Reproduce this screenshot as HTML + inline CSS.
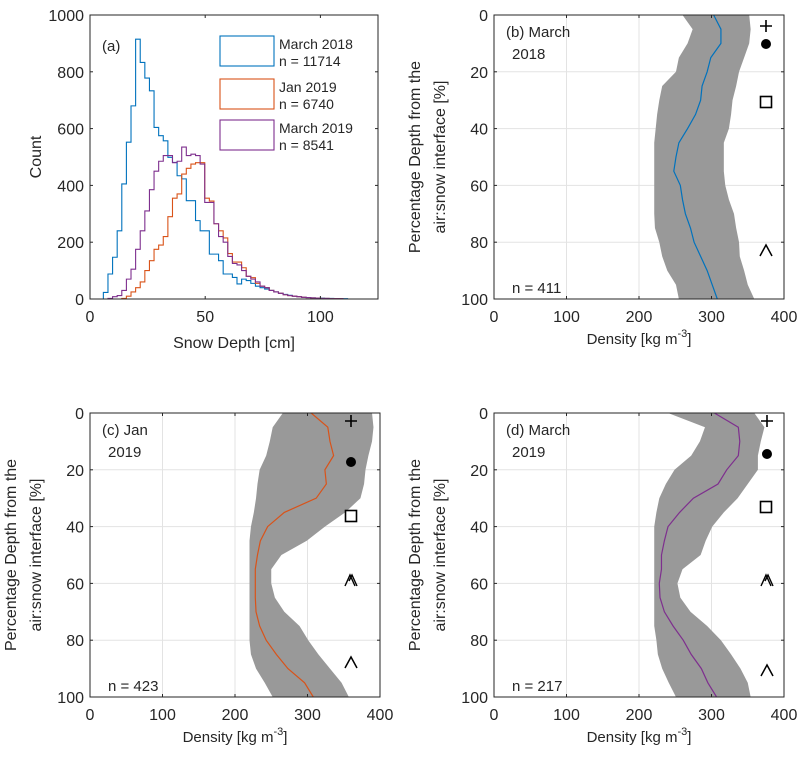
<!DOCTYPE html>
<html><head><meta charset="utf-8"><style>
html,body{margin:0;padding:0;background:#fff;}
svg{display:block;font-family:"Liberation Sans",Arial,sans-serif;}
</style></head><body>
<svg id="fig" width="804" height="761" viewBox="0 0 804 761" xmlns="http://www.w3.org/2000/svg"></svg>
<script>
// ---------- Panel (a) histogram data (bins of 2 cm) ----------
const binStart = 5.8;
const binWidth = 2;
const countsMar2018 = [23,88,147,240,405,552,680,915,833,778,733,604,575,557,499,481,434,423,346,346,276,240,240,158,158,135,88,88,76,53,70,65,55,45,40,35,30,25,20,16,13,10,8,6,5,4,3,3,2,2,1,1,1];
const countsJan2019 = [0,0,0,0,2,10,25,40,60,100,135,175,190,220,290,355,370,440,460,475,480,480,355,345,265,240,215,160,130,130,110,80,75,55,45,40,30,25,20,15,12,10,8,6,5,4,3,2,2,1,1,1,0];
const countsMar2019 = [0,2,8,12,30,70,105,175,240,310,385,450,485,505,505,480,485,535,505,510,505,475,340,340,265,220,200,150,125,120,100,80,70,60,45,40,30,25,20,15,12,10,8,6,5,4,3,2,2,1,1,1,0];
const histXTicks = [0,50,100];
const histYTicks = [0,200,400,600,800,1000];

// ---------- Profile data (every 5 % depth) ----------
const depthPct = [0,5,10,15,20,25,30,35,40,45,50,55,60,65,70,75,80,85,90,95,100];
const meanB  = [303,313,313,299,294,287,285,278,267,255,251,248,257,260,264,271,276,285,294,301,308];
const lowerB = [260,274,267,255,251,232,228,225,223,221,221,221,221,221,221,222,228,232,239,251,255];
const upperB = [352,354,352,345,338,334,329,327,324,317,317,317,319,324,331,334,338,339,345,350,359];
const meanC  = [305,328,331,336,324,326,312,268,245,235,231,228,228,228,229,234,243,257,273,296,308];
const lowerC = [266,252,248,243,234,231,229,226,222,220,220,220,220,220,220,220,220,222,229,241,252];
const upperC = [389,391,389,384,380,378,373,352,324,299,264,250,250,255,268,289,301,315,331,347,357];
const meanD  = [304,337,339,337,321,309,275,256,240,235,231,231,228,229,235,247,261,272,286,295,307];
const lowerD = [240,291,284,272,249,237,228,224,221,221,221,221,221,221,221,221,224,226,232,241,251];
const upperD = [359,373,368,364,364,350,336,317,301,292,285,260,253,257,271,294,313,327,340,350,354];
const densTicks = [0,100,200,300,400];
const pctTicks = [0,20,40,60,80,100];

const NS = "http://www.w3.org/2000/svg";
const svg = document.getElementById('fig');
const TXT = "#262626";
function mk(tag, attrs, parent){
  const e = document.createElementNS(NS, tag);
  for (const k in attrs) e.setAttribute(k, attrs[k]);
  (parent||svg).appendChild(e);
  return e;
}
function text(str, x, y, size, anchor, parent, rot){
  const t = mk('text', {x:x, y:y, 'font-size':size, fill:TXT, 'text-anchor':anchor||'middle'}, parent);
  if (rot) t.setAttribute('transform', 'rotate(-90 '+x+' '+y+')');
  t.textContent = str;
  return t;
}

// ---------- Panel (a) ----------
(function(){
  const L=90, R=378, T=15, B=299;
  const xs = v => L + (v/125)*(R-L);
  const ys = v => B - (v/1000)*(B-T);
  const g = mk('g', {});
  
  
  mk('rect', {x:L, y:T, width:R-L, height:B-T, fill:'#fff'}, g);
  const series = [[countsMar2018,'#0072BD','hist-march-2018'],[countsJan2019,'#D95319','hist-jan-2019'],[countsMar2019,'#7E2F8E','hist-march-2019']];
  series.forEach(s=>{
    let d = 'M'+xs(binStart)+' '+ys(0);
    s[0].forEach((c,i)=>{
      const x0 = xs(binStart+i*binWidth), x1 = xs(binStart+(i+1)*binWidth);
      d += ' L'+x0+' '+ys(c)+' L'+x1+' '+ys(c);
    });
    d += ' L'+xs(binStart+s[0].length*binWidth)+' '+ys(0);
    const p = mk('path', {d:d, fill:'none', stroke:s[1], 'stroke-width':1.1}, g);
    
    
  });
  mk('rect', {x:L, y:T, width:R-L, height:B-T, fill:'none', stroke:TXT, 'stroke-width':1}, g);
  histXTicks.forEach(v=>{
    mk('line',{x1:xs(v),x2:xs(v),y1:B,y2:B-3,stroke:TXT},g);
    mk('line',{x1:xs(v),x2:xs(v),y1:T,y2:T+3,stroke:TXT},g);
    const t = text(String(v), xs(v), B+23, 16, 'middle', g);
     
  });
  histYTicks.forEach(v=>{
    mk('line',{x1:L,x2:L+3,y1:ys(v),y2:ys(v),stroke:TXT},g);
    mk('line',{x1:R,x2:R-3,y1:ys(v),y2:ys(v),stroke:TXT},g);
    const t = text(String(v), L-6, ys(v)+6, 16, 'end', g);
     
  });
  const xl = text('Snow Depth [cm]', 234, 348, 16, 'middle', g);
   
  const yl = text('Count', 41, 157, 16, 'middle', g, true);
   
  const pl = text('(a)', 102, 51, 15, 'start', g);
   
  const leg = [['March 2018','n = 11714','#0072BD',36],['Jan 2019','n = 6740','#D95319',79],['March 2019','n = 8541','#7E2F8E',120]];
  leg.forEach(l=>{
    const lg = mk('g',{},g);
     
    mk('rect',{x:220,y:l[3],width:54,height:30,fill:'#fff',stroke:l[2],'stroke-width':1.1},lg);
    text(l[0],279,l[3]+13,14,'start',lg);
    text(l[1],279,l[3]+30,14,'start',lg);
  });
})();

// ---------- Profile panels ----------
function marker(kind, x, y, g){
  const m = mk('g',{},g);
  
  
  if (kind==='plus'){ mk('path',{d:'M'+(x-6)+' '+y+'H'+(x+6)+'M'+x+' '+(y-6)+'V'+(y+6),stroke:'#000','stroke-width':1.6},m); }
  else if (kind==='dot'){ mk('circle',{cx:x,cy:y,r:5,fill:'#000'},m); }
  else if (kind==='square'){ mk('rect',{x:x-5.5,y:y-5.5,width:11,height:11,fill:'none',stroke:'#000','stroke-width':1.6},m); }
  else if (kind==='caret'){ mk('path',{d:'M'+(x-6)+' '+(y+6)+'L'+x+' '+(y-5)+'L'+(x+6)+' '+(y+6),fill:'none',stroke:'#000','stroke-width':1.5},m); }
  else if (kind==='dcaret'){ mk('path',{d:'M'+(x-6)+' '+(y+6)+'L'+(x-1)+' '+(y-5)+'L'+(x+4)+' '+(y+6)+'M'+(x-2)+' '+(y+1)+'L'+(x+1)+' '+(y-5)+'L'+(x+6)+' '+(y+6),fill:'none',stroke:'#000','stroke-width':1.4},m); }
}
function profile(cfg){
  const L=cfg.L, R=L+290, T=cfg.T, B=cfg.B;
  const xs = v => L + (v/400)*(R-L);
  const ys = p => T + (p/100)*(B-T);
  const g = mk('g',{});
  
  
  mk('rect',{x:L,y:T,width:R-L,height:B-T,fill:'#fff'},g);
  densTicks.forEach(v=>{ if(v>0&&v<400) mk('line',{x1:xs(v),x2:xs(v),y1:T,y2:B,stroke:'#e3e3e3','stroke-width':1},g); });
  pctTicks.forEach(v=>{ if(v>0&&v<100) mk('line',{x1:L,x2:R,y1:ys(v),y2:ys(v),stroke:'#e3e3e3','stroke-width':1},g); });
  let pts = [];
  depthPct.forEach((p,i)=>pts.push(xs(cfg.upper[i])+','+ys(p)));
  for (let i=depthPct.length-1;i>=0;i--) pts.push(xs(cfg.lower[i])+','+ys(depthPct[i]));
  const band = mk('polygon',{points:pts.join(' '),fill:'#999999',stroke:'none'},g);
   
  const mline = mk('polyline',{points:depthPct.map((p,i)=>xs(cfg.mean[i])+','+ys(p)).join(' '),fill:'none',stroke:cfg.color,'stroke-width':1.2},g);
   
  mk('rect',{x:L,y:T,width:R-L,height:B-T,fill:'none',stroke:TXT,'stroke-width':1},g);
  densTicks.forEach(v=>{
    mk('line',{x1:xs(v),x2:xs(v),y1:B,y2:B-3,stroke:TXT},g);
    mk('line',{x1:xs(v),x2:xs(v),y1:T,y2:T+3,stroke:TXT},g);
    const t=text(String(v),xs(v),B+23,16,'middle',g);
     
  });
  pctTicks.forEach(v=>{
    mk('line',{x1:L,x2:L+3,y1:ys(v),y2:ys(v),stroke:TXT},g);
    mk('line',{x1:R,x2:R-3,y1:ys(v),y2:ys(v),stroke:TXT},g);
    const t=text(String(v),L-6,ys(v)+6,16,'end',g);
     
  });
  const xl=mk('text',{x:L+145,y:B+45,'font-size':15,fill:TXT,'text-anchor':'middle'},g);
  xl.innerHTML='Density [kg m<tspan dy="-7" font-size="11">-3</tspan><tspan dy="7">]</tspan>';
   
  const cy=(T+B)/2;
  const y1=text('Percentage Depth from the',L-74,cy,16,'middle',g,true);
   
  const y2=text('air:snow interface [%]',L-49,cy,16,'middle',g,true);
   
  const p1=text(cfg.title1,L+12,T+22,15,'start',g);
   
  const p2=text(cfg.title2,L+18,T+44,15,'start',g);
   
  const n=text(cfg.n,L+18,B-6,15,'start',g);
   
  cfg.markers.forEach(m=>marker(m[0],m[1],m[2],g));
}
profile({name:'panel-b-march-2018',L:494,T:15,B:299,mean:meanB,lower:lowerB,upper:upperB,color:'#0072BD',
  title1:'(b) March',title2:'2018',n:'n = 411',
  markers:[['plus',766,26],['dot',766,44],['square',766,102],['caret',766,250]]});
profile({name:'panel-c-jan-2019',L:90,T:413,B:697,mean:meanC,lower:lowerC,upper:upperC,color:'#D95319',
  title1:'(c) Jan',title2:'2019',n:'n = 423',
  markers:[['plus',351,421],['dot',351,462],['square',351,516],['dcaret',351,580],['caret',351,662]]});
profile({name:'panel-d-march-2019',L:494,T:413,B:697,mean:meanD,lower:lowerD,upper:upperD,color:'#7E2F8E',
  title1:'(d) March',title2:'2019',n:'n = 217',
  markers:[['plus',767,421],['dot',767,454],['square',766,507],['dcaret',767,580],['caret',767,670]]});
</script>
</body></html>
